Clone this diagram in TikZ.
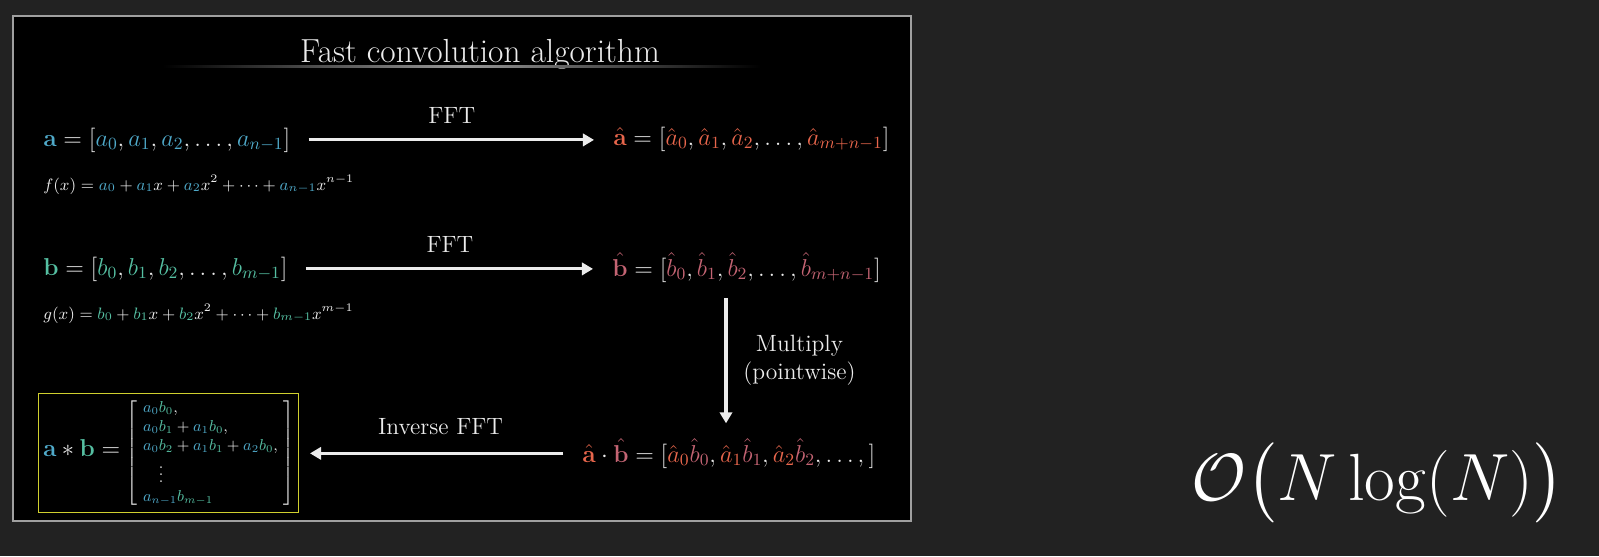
\documentclass[tikz,border=0pt]{standalone}
\usepackage{fix-cm}
\usepackage{amsmath}
\usepackage{amssymb}
\usepackage{tikz}
\usepackage{xcolor}
\usetikzlibrary{arrows.meta}

\definecolor{bgcol}{HTML}{222222}
\definecolor{fgcol}{HTML}{ECECEC}
\definecolor{framecol}{HTML}{A0A0A0}
\definecolor{acol}{HTML}{4FA9C9}
\definecolor{bcol}{HTML}{55BFA2}
\definecolor{ahatcol}{HTML}{E8664C}
\definecolor{bhatcol}{HTML}{C46473}
\definecolor{boxcol}{HTML}{D0D02E}
\newcommand{\colA}[1]{{\color{acol}#1}}
\newcommand{\colB}[1]{{\color{bcol}#1}}
\newcommand{\colAh}[1]{{\color{ahatcol}#1}}
\newcommand{\colBh}[1]{{\color{bhatcol}#1}}

\begin{document}
\begin{tikzpicture}[x=0.02cm,y=-0.02cm,
  every node/.style={text=fgcol},
  rowtext/.style={font=\fontsize{13.9}{16.5}\selectfont,inner sep=0pt,anchor=base west},
  polytext/.style={font=\fontsize{9.4}{11.5}\selectfont,inner sep=0pt,anchor=base west},
  steplabel/.style={font=\fontsize{13.4}{15.5}\selectfont,inner sep=0pt},
  flow/.style={draw=fgcol,line width=1.8pt,-{Triangle[length=6.3pt,width=7pt]}}]
\fill[bgcol] (0,0) rectangle (1599,556);
\draw[framecol,line width=1.1pt,fill=black] (13,16) rectangle (911,521);
\node[font=\fontsize{19}{23}\selectfont,anchor=base] (title) at (480,62) {Fast convolution algorithm};
\shade[left color=black,right color=black,middle color=gray!80] (163,65) rectangle (760,67.4);
\node[rowtext] (avec) at (43,146) {$\colA{\mathbf a} = [\colA{a_0}, \colA{a_1}, \colA{a_2}, \dots, \colA{a_{n-1}}]$};
\node[polytext] (fpoly) at (43,190) {$f(x) = \colA{a_0} + \colA{a_1}x + \colA{a_2}x^2 + \cdots + \colA{a_{n-1}}x^{n-1}$};
\node[rowtext] (ahat) at (613,145) {$\colAh{\hat{\mathbf a}} = [\colAh{\hat a_0}, \colAh{\hat a_1}, \colAh{\hat a_2}, \dots, \colAh{\hat a_{m+n-1}}]$};
\node[rowtext] (bvec) at (43,275) {$\colB{\mathbf b} = [\colB{b_0}, \colB{b_1}, \colB{b_2}, \dots, \colB{b_{m-1}}]$};
\node[polytext] (gpoly) at (43,319) {$g(x) = \colB{b_0} + \colB{b_1}x + \colB{b_2}x^2 + \cdots + \colB{b_{m-1}}x^{m-1}$};
\node[rowtext] (bhat) at (612,276) {$\colBh{\hat{\mathbf b}} = [\colBh{\hat b_0}, \colBh{\hat b_1}, \colBh{\hat b_2}, \dots, \colBh{\hat b_{m+n-1}}]$};
\node[rowtext] (prod) at (582,462) {$\colAh{\hat{\mathbf a}} \cdot \colBh{\hat{\mathbf b}} = [\colAh{\hat a_0}\colBh{\hat b_0}, \colAh{\hat a_1}\colBh{\hat b_1}, \colAh{\hat a_2}\colBh{\hat b_2}, \dots,]$};
\node[draw=boxcol,line width=0.8pt,inner xsep=2.5pt,inner ysep=3pt,anchor=west,font=\fontsize{13.9}{16.5}\selectfont] (conv) at (38,453)
  {$\colA{\mathbf a} * \colB{\mathbf b} = \text{\fontsize{9}{10.8}\selectfont\arraycolsep=3pt$\left[\begin{array}{l}
  \colA{a_0}\colB{b_0},\\
  \colA{a_0}\colB{b_1} + \colA{a_1}\colB{b_0},\\
  \colA{a_0}\colB{b_2} + \colA{a_1}\colB{b_1} + \colA{a_2}\colB{b_0},\\
  \quad\vdots\\
  \colA{a_{n-1}}\colB{b_{m-1}}
  \end{array}\right]$}$};
\node[font=\fontsize{38}{42}\selectfont,anchor=base,text=white] (cost) at (1378,500) {$\mathcal{O}\big(N\log(N)\big)$};
\coordinate (mulx) at (726,0);
\draw[flow,shorten <=10.2pt,shorten >=10.8pt] (avec.east) -- (avec.east -| ahat.west) node[steplabel,midway,above=8.5pt] {FFT};
\draw[flow,shorten <=10.2pt,shorten >=10.8pt] (bvec.east) -- (bvec.east -| bhat.west) node[steplabel,midway,above=8.5pt] {FFT};
\draw[flow,shorten <=9pt,shorten >=8.5pt] (bhat.south -| mulx) -- (prod.north -| mulx) node[steplabel,midway,right=9pt,align=center] {Multiply\\(pointwise)};
\draw[flow,shorten <=10.7pt,shorten >=6.2pt] (prod.west) -- (prod.west -| conv.east) node[steplabel,midway,above=9.6pt] {Inverse FFT};
\end{tikzpicture}
\end{document}
